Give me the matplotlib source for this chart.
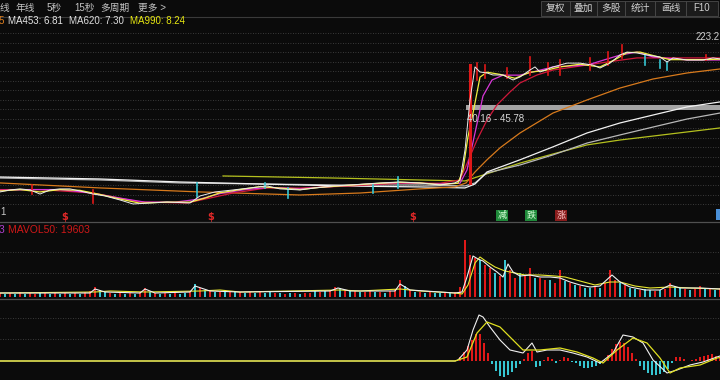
import numpy as np
import matplotlib
matplotlib.use('Agg')
import matplotlib.pyplot as plt
from matplotlib.patches import Rectangle
from matplotlib.lines import Line2D

plt.rcParams['font.family'] = ['Liberation Sans', 'Noto Sans CJK SC', 'DejaVu Sans']

BG = '#0b0b0b'
GRID = '#4a4a4a'
RED = '#e01818'
CYAN = '#36c6d2'

# ── price lines (bar index, price) ───────────────────────────────────────────
close_x = [0, 10, 20, 30, 40, 50, 60, 70, 80, 93, 105, 120, 133, 150, 167, 190, 200, 215, 233, 250,
           267, 280, 300, 315, 333, 350, 365, 380, 400, 420, 440, 455, 460, 465, 470, 475, 480, 487, 493, 503,
           513, 520, 530, 535, 540, 553, 567, 580, 593, 600, 610, 620, 627, 637, 647, 660, 667, 673, 687, 703,
           713, 720]
close_p = [4.70, 4.95, 5.09, 4.95, 4.45, 4.95, 5.09, 5.09, 4.82, 4.45, 4.23, 3.81, 3.43, 3.52, 3.61, 3.52, 4.23, 4.70, 4.95, 5.22,
           5.50, 5.09, 4.95, 5.22, 5.50, 5.64, 5.79, 5.95, 6.10, 5.95, 5.64, 5.95, 6.43, 14.1, 52.2, 124, 108.6, 105.8, 100.4, 100.4,
           88.1, 95.3, 114.4, 124, 108.6, 124, 137, 137, 130, 120.5, 137, 169.5, 183, 178.6, 169.5, 161, 141, 157, 148.6, 148.6,
           157, 153]

ma5_x = [0, 20, 40, 60, 80, 100, 120, 140, 167, 190, 205, 220, 240, 260, 280, 300, 320, 340, 360, 380,
         400, 420, 440, 458, 463, 468, 473, 480, 487, 500, 515, 530, 545, 560, 580, 600, 615, 627, 640, 655,
         670, 690, 705, 720]
ma5_p = [4.82, 5.0, 4.7, 5.0, 4.9, 4.4, 3.9, 3.5, 3.6, 3.6, 4.0, 4.6, 5.0, 5.4, 5.2, 5.0, 5.3, 5.5, 5.7, 5.9,
         6.05, 5.95, 5.7, 5.9, 8.35, 20, 37, 95, 108, 102, 92, 108, 113, 124, 133, 124, 150, 180, 183, 165,
         150, 150, 150, 152]

ma10_x = [0, 30, 60, 90, 120, 145, 175, 200, 220, 245, 270, 300, 330, 360, 400, 440, 460, 467, 475, 483,
          492, 503, 520, 553, 587, 620, 637, 653, 687, 720]
ma10_p = [4.9, 5.0, 5.0, 4.6, 4.0, 3.6, 3.6, 3.9, 4.5, 5.0, 5.3, 5.1, 5.4, 5.7, 6.0, 5.8, 5.9, 8.35, 22, 58,
          88, 100, 100, 124, 130, 169, 183, 161, 148.6, 148.6]

ma30_x = [0, 40, 93, 140, 187, 233, 267, 300, 350, 400, 440, 460, 477, 487, 497, 510, 520, 537, 553, 587,
          607, 637, 720]
ma30_p = [5.0, 5.0, 4.57, 3.61, 3.52, 4.57, 5.22, 5.2, 5.5, 5.9, 5.9, 6.43, 18.3, 30.9, 45.8, 64.4, 81.5, 100.4, 114.4, 130.4,
          141, 157, 157]

ma120_x = [0, 100, 200, 300, 360, 420, 455, 466, 475, 487, 500, 520, 553, 587, 620, 653, 687, 720]
ma120_p = [5.95, 5.22, 4.70, 4.34, 4.57, 5.09, 5.36, 5.95, 7.93, 10.9, 14.9, 22.0, 37.1, 52.2, 71.4, 90.4, 105.8, 117.5]

long_x = [0, 100, 180, 260, 340, 420, 465, 475, 487, 520, 553, 587, 620, 653, 687, 720]
ma453_p = [6.95, 6.60, 6.10, 5.79, 5.50, 5.36, 5.22, 5.79, 7.93, 10.9, 15.3, 22.0, 28.6, 35.2, 43.5, 49.6]
ma620_p = [6.77, 6.43, 5.95, 5.79, 5.64, 5.64, 5.50, 5.95, 7.73, 9.52, 12.4, 16.9, 20.9, 25.7, 31.7, 37.1]

ma990_x = [223, 333, 420, 465, 477, 520, 553, 587, 620, 653, 687, 720]
ma990_p = [7.14, 6.77, 6.43, 6.27, 6.95, 10.0, 12.7, 16.1, 18.3, 20.3, 22.6, 25.1]

# candle wicks: bar, low, high, colour
wick_x = [32, 93, 197, 265, 288, 373, 398, 470, 477, 485, 507, 530, 548, 560, 590, 608, 622, 645, 660, 667, 706]
wick_lo = [4.45, 3.52, 4.12, 5.22, 4.01, 4.57, 5.22, 5.95, 88.1, 92.8, 92.8, 100.4, 100.4, 100.4, 114.4, 130.4, 157, 130.4, 120.5, 114.4, 148.6]
wick_hi = [5.64, 4.95, 5.95, 5.95, 5.22, 5.64, 6.95, 130, 137, 130.4, 120.5, 161, 137, 148.6, 157, 183, 220, 169.5, 148.6, 141, 169.5]
wick_c = 'rrcccccrrrrrrrrrrcccr'

range_lo, range_hi, range_start = 40.16, 45.78, 466
price_max = 223.2

# ── volume (thousand lots), one bar every 5 bars ─────────────────────────────
vol = [2.0, 1.5, 2.0, 1.5, 2.5, 1.5, 2.0, 1.5, 2.0, 2.5,
       1.5, 2.0, 1.5, 2.0, 1.5, 2.0, 1.5, 2.5, 3.0, 5.0,
       3.5, 2.5, 2.0, 1.5, 2.0, 1.5, 2.0, 1.5, 2.5, 4.5,
       2.5, 2.0, 1.5, 2.0, 1.5, 2.0, 1.5, 2.0, 3.0, 6.5,
       4.5, 3.5, 3.0, 2.5, 2.5, 3.0, 2.5, 3.0, 2.5, 2.0,
       2.5, 2.0, 2.5, 2.0, 2.5, 2.0, 2.0, 1.5, 2.0, 2.0,
       1.5, 2.0, 2.0, 3.0, 2.5, 3.0, 3.5, 5.0, 4.5, 3.5,
       3.0, 3.0, 2.5, 2.5, 3.0, 2.5, 2.5, 2.0, 3.0, 4.0,
       8.5, 5.5, 3.5, 2.5, 2.5, 2.0, 2.5, 2.0, 2.0, 2.5,
       2.0, 2.5, 5.0, 28.5, 21.0, 19.5, 18.5, 16.0, 14.5, 12.0,
       10.5, 18.5, 13.5, 9.5, 12.0, 11.0, 14.5, 9.5, 9.5, 8.5,
       8.5, 7.0, 13.5, 8.0, 7.0, 6.0, 5.5, 4.5, 4.5, 5.0,
       4.5, 7.0, 13.5, 8.5, 7.0, 6.0, 4.5, 4.0, 3.5, 4.0,
       3.5, 3.0, 3.5, 4.0, 7.0, 5.5, 4.5, 4.0, 3.5, 4.0,
       5.5, 4.5, 4.0, 3.5, 4.5]
vol_c = ('rcrcrcrrcr' 'crcrcrcrrr' 'ccrcrcrcrr' 'crcrcrccrc' 'rcrcrcrcrc'
         'rcrccrcrcr' 'crrcrcrrcr' 'crcrrcrcrr' 'rcrcrcrccr' 'crrrrrcrrc'
         'rcrrcrrcrr' 'crrcrcrccr' 'crrrcrccrc' 'crcrrccrcr' 'rcrcr')

vma5_x = [0, 90, 95, 105, 140, 145, 155, 190, 195, 210, 240, 330, 338, 350, 395, 400, 410, 455, 462, 467,
          473, 478, 483, 490, 497, 503, 508, 513, 520, 530, 540, 550, 560, 570, 580, 590, 600, 612, 620, 630,
          645, 660, 670, 680, 700, 720]
vma5_v = [2.0, 2.0, 4.0, 2.5, 2.0, 4.0, 2.0, 2.5, 5.5, 3.0, 2.5, 3.0, 4.5, 3.0, 3.0, 6.5, 3.5, 2.0, 2.5, 10.0,
          20.5, 19.0, 18.0, 15.0, 12.5, 10.0, 16.5, 12.5, 10.5, 11.0, 10.0, 10.0, 9.5, 7.5, 6.0, 5.0, 5.5, 11.0, 7.5, 5.0,
          3.5, 3.5, 6.0, 4.5, 4.5, 4.0]
vma10_x = [0, 95, 110, 145, 200, 220, 240, 340, 360, 400, 420, 455, 462, 468, 475, 480, 487, 495, 505, 515,
           525, 540, 555, 565, 580, 595, 610, 620, 635, 650, 670, 690, 720]
vma10_v = [2.0, 2.5, 3.0, 2.5, 3.0, 3.5, 2.5, 3.5, 3.0, 4.0, 3.0, 2.0, 1.5, 6.0, 17.0, 20.0, 17.5, 15.0, 13.0, 12.0,
           11.0, 11.0, 10.5, 10.0, 8.0, 6.0, 7.5, 7.5, 5.5, 4.5, 5.0, 4.5, 4.0]

# ── MACD ─────────────────────────────────────────────────────────────────────
hist_x = list(range(456, 721, 4))
hist_v = [0.1, 0.4, 0.9, 1.5, 2.1, 2.7, 2.7, 1.8, 0.8, -0.3,
          -1.0, -1.5, -1.6, -1.4, -1.1, -0.7, -0.3, 0.2, 0.8, 1.0,
          -0.6, -0.5, 0.1, 0.4, 0.2, -0.2, 0.1, 0.4, 0.3, -0.1,
          -0.2, -0.5, -0.7, -0.7, -0.6, -0.5, -0.3, 0.1, 0.6, 1.2,
          1.7, 1.9, 1.8, 1.4, 0.8, 0.2, -0.5, -0.9, -1.2, -1.4,
          -1.4, -1.3, -1.1, -0.8, -0.2, 0.4, 0.4, 0.2, 0.0, 0.1,
          0.2, 0.4, 0.5, 0.6, 0.7, 0.5, 0.3]
dif_x = [0, 455, 458, 467, 473, 479, 483, 490, 500, 510, 523, 532, 537, 547, 560, 573, 587, 600, 613, 623,
         633, 643, 653, 667, 677, 690, 703, 717, 720]
dif_v = [0, 0, 0.1, 1.1, 3.1, 4.6, 4.4, 3.4, 2.1, 1.1, 0.8, 1.8, 0.9, 1.1, 1.1, 0.8, 0.4, -0.2, 0.8, 2.6,
         2.4, 1.8, 0.1, -1.2, -0.9, -0.4, -0.1, 0.4, 0.5]
dea_x = [0, 455, 467, 477, 487, 500, 510, 523, 540, 560, 577, 593, 603, 617, 633, 647, 660, 670, 680, 700,
         717, 720]
dea_v = [0, 0, 0.4, 2.8, 3.9, 3.4, 2.4, 1.1, 1.1, 1.3, 0.9, 0.3, -0.2, 1.1, 2.3, 1.8, 0.3, -1.2, -0.7, -0.4,
         0.3, 0.35]

# ── figure ───────────────────────────────────────────────────────────────────
W, H = 720, 380
fig = plt.figure(figsize=(7.2, 3.8), dpi=100, facecolor=BG)


def fy(y):
    return 1 - y / H


def hline(y, color, lw=0.8, ls='-'):
    fig.add_artist(Line2D([0, 1], [fy(y), fy(y)], transform=fig.transFigure,
                          color=color, lw=lw, ls=ls))


# header toolbar
for label, x in [('线', 0), ('年线', 16), ('5秒', 47), ('15秒', 74), ('多周期', 100), ('更多 >', 138)]:
    fig.text(x / W, fy(8), label, color='#c4c4c4', fontsize=7, va='center', ha='left')
for label, x0, x1 in [('复权', 541, 570), ('叠加', 570, 597), ('多股', 597, 625),
                      ('统计', 625, 655), ('画线', 655, 686), ('F10', 686, 718)]:
    fig.add_artist(Rectangle((x0 / W, fy(16)), (x1 - x0) / W, 15 / H, transform=fig.transFigure,
                             facecolor='#1b1b1b', edgecolor='#4a4a4a', lw=0.6))
    fig.text((x0 + x1) / 2 / W, fy(8), label, color='#d0d0d0', fontsize=7, va='center', ha='center')
hline(16.5, '#3a3a3a')

# MA legend
for label, x, c in [('5', -1, '#e08020'), ('MA453: 6.81', 8, '#e6e6e6'),
                    ('MA620: 7.30', 69, '#dcdcdc'), ('MA990: 8.24', 130, '#e8e810')]:
    fig.text(x / W, fy(21.5), label, color=c, fontsize=7, va='center', ha='left')

# ── price panel ──────────────────────────────────────────────────────────────
ax = fig.add_axes([0, fy(222), 1, 192 / H])
ax.set_facecolor('none')
ax.set_yscale('log')
ax.set_xlim(0, 720)
ax.set_ylim(2.14, 326)
ax.axis('off')
for y in np.arange(33, 206, 9.5):
    f = (222 - y) / 192
    ax.plot([0, 1], [f, f], transform=ax.transAxes, color=GRID, lw=0.6, ls=(0, (1, 2)), zorder=0)

ax.fill_between([range_start, 720], range_lo, range_hi, color='#a4a4a4', lw=0, zorder=1)
ax.text(range_start + 1, range_lo * 0.9, f'{range_lo:.2f} - {range_hi:.2f}', color='#d8d8d8',
        fontsize=7, va='top', ha='left', zorder=6)

ax.plot(ma990_x, ma990_p, color='#b4c01e', lw=0.9, zorder=2)
ax.plot(long_x, ma620_p, color='#b8b8b8', lw=0.9, zorder=2)
ax.plot(long_x, ma453_p, color='#f2f2f2', lw=0.9, zorder=2)
ax.plot(ma120_x, ma120_p, color='#d87a1c', lw=0.9, zorder=2)
ax.plot(ma30_x, ma30_p, color='#d0183a', lw=0.9, zorder=3)
ax.plot(ma10_x, ma10_p, color='#d838d8', lw=0.9, zorder=3)
ax.plot(ma5_x, ma5_p, color='#f0f040', lw=0.9, zorder=3)
for x, lo, hi, c in zip(wick_x, wick_lo, wick_hi, wick_c):
    ax.plot([x, x], [lo, hi], color=RED if c == 'r' else CYAN, lw=1.2 if x != 470 else 2.2, zorder=4)
ax.plot(close_x, close_p, color='#ececec', lw=0.7, zorder=5)

ax.text(1, 1 - 7 / 192, f'{price_max:.1f}', transform=ax.transAxes, color='#d0d0d0',
        fontsize=7, ha='right', va='center')
ax.text(0, 10 / 192, '1', transform=ax.transAxes, color='#c8c8c8', fontsize=7, ha='left', va='center')

# event markers under the price panel
for x in [65, 211, 413]:
    ax.text(x, 0.026, '$', transform=ax.get_xaxis_transform(), color='#e02828', fontsize=7,
            fontweight='bold', ha='center', va='center', family='DejaVu Sans')
for label, x, fc, tc in [('减', 502, '#1f8a3a', '#d8ffd8'), ('跌', 531, '#1f8a3a', '#d8ffd8'),
                         ('涨', 561, '#8a1c1c', '#ffc8c8')]:
    ax.text(x, 0.034, label, transform=ax.get_xaxis_transform(), color=tc, fontsize=6.5,
            ha='center', va='center', bbox=dict(boxstyle='square,pad=0.12', fc=fc, ec='none'))
ax.add_patch(Rectangle((716, 0.012), 5, 0.055, transform=ax.get_xaxis_transform(),
                       facecolor='#4a90d8', edgecolor='none', clip_on=False))

# ── volume panel ─────────────────────────────────────────────────────────────
axv = fig.add_axes([0, fy(298), 1, 76 / H])
axv.set_facecolor('none')
axv.set_xlim(0, 720)
axv.set_ylim(-0.5, 37.5)
for s in axv.spines.values():
    s.set_visible(False)
axv.set_xticks([])
axv.set_yticks([])
for y in [252, 273]:
    f = (298 - y) / 76
    axv.plot([0, 1], [f, f], transform=axv.transAxes, color=GRID, lw=0.6, ls=(0, (1, 2)), zorder=0)
vx = np.arange(len(vol)) * 5
axv.bar(vx, vol, width=2.6, color=[RED if c == 'r' else CYAN for c in vol_c], lw=0, zorder=2)
axv.plot(vma10_x, vma10_v, color='#e8e830', lw=0.8, zorder=3)
axv.plot(vma5_x, vma5_v, color='#f0f0f0', lw=0.8, zorder=3)
fig.text(-1 / W, fy(229.5), '3', color='#b040d0', fontsize=7.5, va='center', ha='left')
fig.text(8 / W, fy(229.5), 'MAVOL50: 19603', color='#d01818', fontsize=7.5, va='center', ha='left')

hline(222, '#505050', lw=0.9)
hline(298.5, '#505050', lw=0.9)

# ── MACD panel ───────────────────────────────────────────────────────────────
axm = fig.add_axes([0, 0, 1, 80 / H])
axm.set_facecolor('none')
axm.set_xlim(0, 720)
axm.set_ylim(-1.9, 6.1)
axm.axis('off')
for y in [318, 339]:
    f = (380 - y) / 80
    axm.plot([0, 1], [f, f], transform=axm.transAxes, color=GRID, lw=0.6, ls=(0, (1, 2)), zorder=0)
axm.bar(hist_x, hist_v, width=2.4, color=[RED if v > 0 else CYAN for v in hist_v], lw=0, zorder=2)
axm.plot(dif_x, dif_v, color='#f0f0f0', lw=0.8, zorder=3)
axm.plot(dea_x, dea_v, color='#e0e020', lw=0.9, zorder=3)

fig.savefig('out.png', dpi=100, facecolor=BG)
